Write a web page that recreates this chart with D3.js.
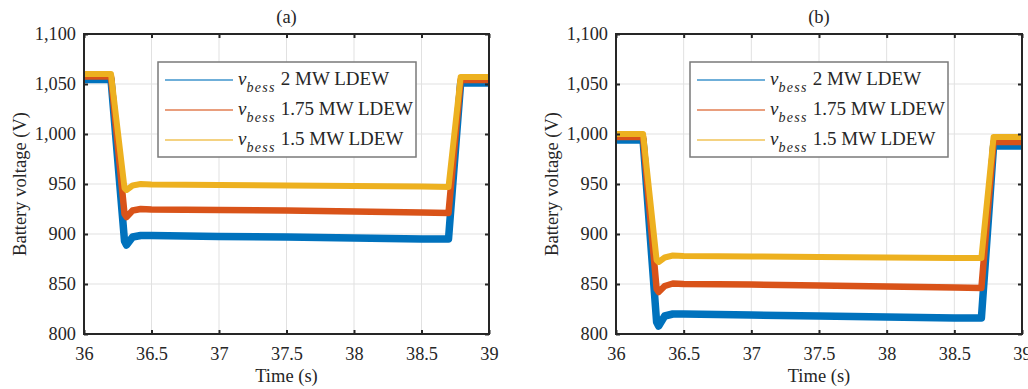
<!DOCTYPE html>
<html><head><meta charset="utf-8">
<script src="https://cdn.jsdelivr.net/npm/d3@7"></script>
<style>body{margin:0;background:#fff}svg{display:block}text{font-family:"Liberation Serif","Times New Roman",serif;fill:#262626}</style>
</head><body><svg id="c" width="1028" height="389"></svg>
<script>
const xTicks = [36, 36.5, 37, 37.5, 38, 38.5, 39];
const yTicks = [800, 850, 900, 950, 1000, 1050, 1100];
const seriesNames = ["2 MW LDEW", "1.75 MW LDEW", "1.5 MW LDEW"];
const colors = ["#0072BD", "#D95319", "#EDB120"];
const panelTitles = ["(a)", "(b)"];
const time = [36, 36.2, 36.3, 36.315, 36.36, 36.42, 36.5, 37, 37.5, 38, 38.5, 38.7, 38.79, 39];
// panel (a)
const aBlue   = [1054.5, 1054.5, 893, 889, 897, 898.5, 898.5, 897.5, 897, 896, 895, 895, 1051, 1051];
const aRed    = [1057.5, 1057.5, 920, 917, 923.5, 925, 924.5, 924, 923.5, 922.5, 921.5, 921, 1054, 1054];
const aYellow = [1060, 1060, 946, 944, 948.5, 950, 949.5, 949, 948.5, 948, 947.5, 947, 1057, 1057];
// panel (b)
const bBlue   = [994, 994, 812, 808, 818, 820, 820, 819, 818, 817, 816, 816, 988, 988];
const bRed    = [997, 997, 845, 842, 848, 850.5, 850, 849.5, 848.5, 847.5, 846.5, 846, 992, 992];
const bYellow = [1000, 1000, 874, 872, 876.5, 878.5, 878, 877.5, 877, 876.5, 876, 876, 997, 997];

const panels = [
  {title: panelTitles[0], series: [aBlue, aRed, aYellow], x0: 84, x1: 489},
  {title: panelTitles[1], series: [bBlue, bRed, bYellow], x0: 616, x1: 1022}
];
const svg = d3.select("#c");
const yTop = 34, yBot = 334;

panels.forEach(p => {
  const x = d3.scaleLinear().domain([36, 39]).range([p.x0, p.x1]);
  const y = d3.scaleLinear().domain([800, 1100]).range([yBot, yTop]);
  const g = svg.append("g");
  // grid
  g.append("g").selectAll("line").data(xTicks.slice(1, -1)).join("line")
    .attr("x1", d => x(d)).attr("x2", d => x(d)).attr("y1", yTop).attr("y2", yBot)
    .attr("stroke", "#e1e1e1").attr("stroke-width", 1);
  g.append("g").selectAll("line").data(yTicks.slice(1, -1)).join("line")
    .attr("y1", d => y(d)).attr("y2", d => y(d)).attr("x1", p.x0).attr("x2", p.x1)
    .attr("stroke", "#e1e1e1").attr("stroke-width", 1);
  // data
  const clipId = "clip" + p.x0;
  svg.append("clipPath").attr("id", clipId).append("rect")
    .attr("x", p.x0).attr("y", yTop).attr("width", p.x1 - p.x0).attr("height", yBot - yTop);
  const line = d3.line().x((d, i) => x(time[i])).y(d => y(d));
  const widths = [7.5, 6.5, 6];
  p.series.forEach((s, k) => {
    g.append("path").datum(s).attr("d", line).attr("fill", "none")
      .attr("stroke", colors[k]).attr("stroke-width", widths[k])
      .attr("stroke-linejoin", "round").attr("clip-path", `url(#${clipId})`);
  });
  // axes
  const ax = d3.axisBottom(x).tickValues(xTicks).tickSize(-4).tickPadding(13).tickFormat(d3.format("~g"));
  const axT = d3.axisTop(x).tickValues(xTicks).tickSize(-4).tickFormat("");
  const ay = d3.axisLeft(y).tickValues(yTicks).tickSize(-4).tickPadding(8).tickFormat(d3.format(","));
  const ayR = d3.axisRight(y).tickValues(yTicks).tickSize(-4).tickFormat("");
  const style = sel => {
    sel.select(".domain").attr("stroke", "#262626").attr("stroke-width", 2);
    sel.selectAll(".tick line").attr("stroke", "#262626").attr("stroke-width", 2);
    sel.selectAll("text").attr("font-size", 18.3).attr("fill", "#262626").attr("font-family", "Liberation Serif");
  };
  g.append("g").attr("transform", `translate(0,${yBot})`).call(ax).call(style);
  g.append("g").attr("transform", `translate(0,${yTop})`).call(axT).call(style);
  g.append("g").attr("transform", `translate(${p.x0},0)`).call(ay).call(style);
  g.append("g").attr("transform", `translate(${p.x1},0)`).call(ayR).call(style);
  g.selectAll(".domain").attr("d", null);
  g.append("rect").attr("x", p.x0).attr("y", yTop).attr("width", p.x1 - p.x0).attr("height", yBot - yTop)
    .attr("fill", "none").attr("stroke", "#262626").attr("stroke-width", 2);
  // labels
  g.append("text").attr("x", (p.x0 + p.x1) / 2).attr("y", 23).attr("text-anchor", "middle")
    .attr("font-size", 18.5).text(p.title);
  g.append("text").attr("x", (p.x0 + p.x1) / 2).attr("y", 382).attr("text-anchor", "middle")
    .attr("font-size", 18.5).text("Time (s)");
  g.append("text").attr("transform", `translate(${p.x0 - 58},${(yTop + yBot) / 2}) rotate(-90)`)
    .attr("text-anchor", "middle").attr("font-size", 18.5).text("Battery voltage (V)");
  // legend
  const lx = p.x0 + 74, ly = 62;
  g.append("rect").attr("x", lx).attr("y", ly).attr("width", 258).attr("height", 95)
    .attr("fill", "#fff").attr("stroke", "#7a7a7a").attr("stroke-width", 1.5);
  seriesNames.forEach((n, k) => {
    const ry = ly + 18 + k * 30;
    g.append("line").attr("x1", lx + 7).attr("x2", lx + 75).attr("y1", ry).attr("y2", ry)
      .attr("stroke", colors[k]).attr("stroke-width", 1.5).attr("opacity", 0.75);
    const t = g.append("text").attr("x", lx + 80).attr("y", ry + 5).attr("font-size", 19);
    t.append("tspan").attr("font-style", "italic").text("v");
    t.append("tspan").attr("font-style", "italic").attr("font-size", 14).attr("letter-spacing", 1.3).attr("dy", 7).text("bess");
    t.append("tspan").attr("dy", -7).attr("dx", 5).text(n);
  });
});
</script></body></html>
